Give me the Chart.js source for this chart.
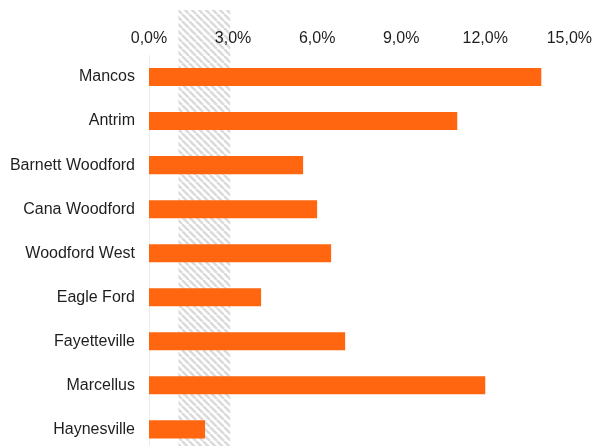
<!DOCTYPE html>
<html lang="en">
<head>
  <meta charset="UTF-8">
  <title>Play share</title>
  <script src="https://cdn.jsdelivr.net/npm/chart.js"></script>
  <style>
    html, body { margin: 0; padding: 0; background: #fff; overflow: hidden; }
    #wrap { width: 599px; height: 475px; position: relative; }
  </style>
</head>
<body>
  <div id="wrap"><canvas id="chart"></canvas></div>
  <script>
    // Plays and their share (%)
    const plays = ['Mancos', 'Antrim', 'Barnett Woodford', 'Cana Woodford', 'Woodford West',
                   'Eagle Ford', 'Fayetteville', 'Marcellus', 'Haynesville'];
    const shares = [14.0, 11.0, 5.5, 6.0, 6.5, 4.0, 7.0, 12.0, 2.0];

    // Shaded reference range on the x axis (%)
    const bandFrom = 1.05;
    const bandTo = 2.9;

    function makeHatch() {
      const p = 7;
      const c = document.createElement('canvas');
      c.width = p; c.height = p;
      const g = c.getContext('2d');
      g.fillStyle = '#ffffff';
      g.fillRect(0, 0, p, p);
      g.strokeStyle = '#dadada';
      g.lineWidth = 2.5;
      for (let k = -1; k <= 1; k++) {
        g.beginPath();
        g.moveTo(k * p, 0);
        g.lineTo(k * p + p, p);
        g.stroke();
      }
      return g.createPattern(c, 'repeat');
    }

    // striped band goes under the axes and bars
    const hatchBand = {
      id: 'hatchBand',
      beforeDraw(chart) {
        const { ctx } = chart;
        const x = chart.scales.x;
        const x0 = x.getPixelForValue(bandFrom);
        const x1 = x.getPixelForValue(bandTo);
        ctx.save();
        ctx.fillStyle = makeHatch();
        ctx.fillRect(x0, 10, x1 - x0, chart.height - 10);
        ctx.restore();
      }
    };

    const font = { family: 'Liberation Sans, Arial', size: 16 };

    new Chart(document.getElementById('chart'), {
      type: 'bar',
      data: {
        labels: plays,
        datasets: [{
          data: shares,
          backgroundColor: '#FF660F',
          barPercentage: 0.41,
          categoryPercentage: 1
        }]
      },
      options: {
        indexAxis: 'y',
        responsive: true,
        maintainAspectRatio: false,
        animation: false,
        layout: { padding: { left: 0, right: 16, top: 0, bottom: 0 } },
        plugins: { legend: { display: false }, tooltip: { enabled: false } },
        scales: {
          x: {
            position: 'top',
            min: 0,
            max: 15,
            afterFit(s) { s.height = 55; },
            grid: { display: false, drawTicks: false },
            border: { display: false },
            ticks: {
              stepSize: 3,
              padding: 7,
              color: '#1e1e1e',
              font: font,
              callback: v => v.toFixed(1).replace('.', ',') + '%'
            }
          },
          y: {
            afterFit(s) { s.width = 149; },
            grid: { display: false, drawTicks: false },
            border: { display: true, color: '#ececec', width: 1 },
            ticks: {
              padding: 14,
              color: '#1e1e1e',
              font: font
            }
          }
        }
      },
      plugins: [hatchBand]
    });
  </script>
</body>
</html>
